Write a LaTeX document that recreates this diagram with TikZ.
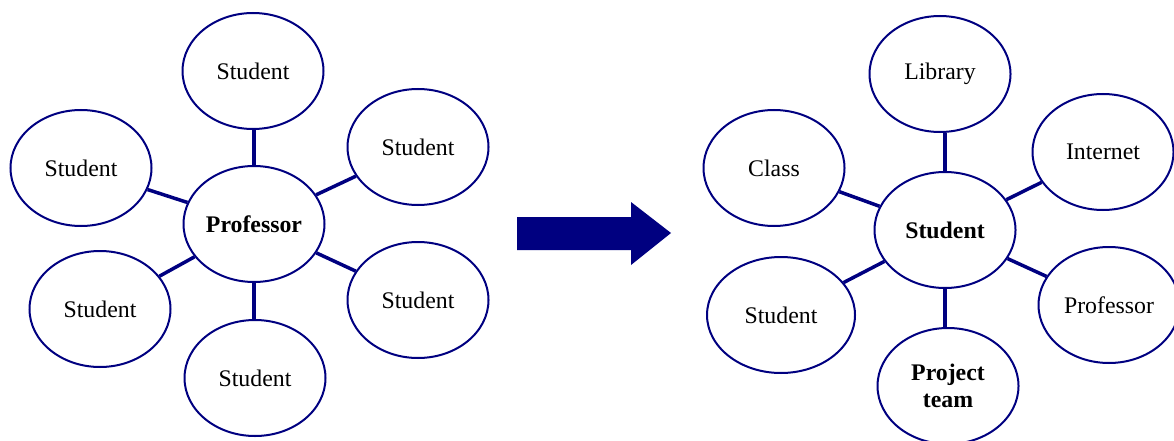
\documentclass[tikz,border=0pt]{standalone}
\usepackage{fontspec}
\setmainfont{Liberation Serif}
\usetikzlibrary{shapes.geometric}
\definecolor{navyb}{RGB}{0,0,128}
\begin{document}
\begin{tikzpicture}[x=1pt,y=-1pt,
  bub/.style={ellipse, draw=navyb, line width=2pt, minimum width=141pt, minimum height=116pt,
    inner sep=0pt, font=\fontsize{23.8}{27}\selectfont, align=center},
  link/.style={draw=navyb, line width=3.5pt}]
\useasboundingbox (0,0) rectangle (1174,441);
% left group
\node[bub] (prof) at (254,224) {\textbf{Professor}};
\node[bub] (ls1) at (253,71) {Student};
\node[bub] (ls2) at (81,168) {Student};
\node[bub] (ls3) at (418,147) {Student};
\node[bub] (ls4) at (100,309) {Student};
\node[bub] (ls5) at (418,300) {Student};
\node[bub] (ls6) at (255,378) {Student};
\draw[link] (prof.north) -- (prof.north |- ls1.south);
\draw[link] (prof.south) -- (prof.south |- ls6.north);
\foreach \n in {ls2,ls3,ls4,ls5} \draw[link] (prof) -- (\n);
% arrow
\fill[navyb] (517,217) -- (631,217) -- (631,202) -- (671,233) -- (631,265) -- (631,250) -- (517,250) -- cycle;
% right group
\node[bub] (rs) at (945,230) {\textbf{Student}};
\node[bub] (lib) at (940,74) {Library};
\node[bub] (cls) at (774,168) {Class};
\node[bub] (inet) at (1103,152) {Internet};
\node[bub, minimum width=148pt] (rst) at (781,315) {Student};
\node[bub] (rprof) at (1109,305) {Professor};
\node[bub] (team) at (948,386) {\textbf{Project}\\\textbf{team}};
\draw[link] (rs.north) -- (rs.north |- lib.south);
\draw[link] (rs.south) -- (rs.south |- team.north);
\foreach \n in {cls,inet,rst,rprof} \draw[link] (rs) -- (\n);
\end{tikzpicture}
\end{document}
